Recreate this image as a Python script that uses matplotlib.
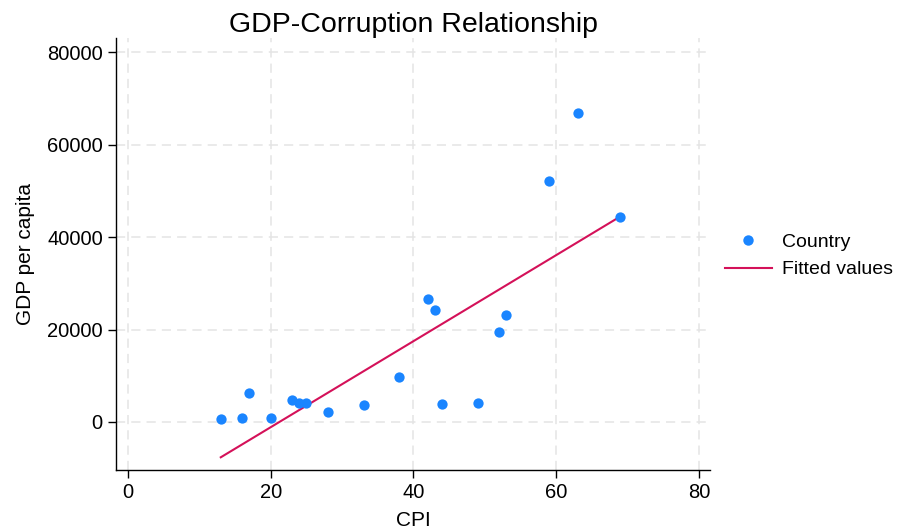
import matplotlib
matplotlib.use("Agg")
import matplotlib.pyplot as plt
from matplotlib.lines import Line2D

plt.rcParams['font.family'] = ['Liberation Sans', 'DejaVu Sans']

# Corruption Perceptions Index and GDP per capita by country
cpi = [13, 16, 17, 20, 23, 24, 25, 28, 33, 38, 42, 43, 44, 49, 52, 53, 59, 63, 69]
gdp = [580, 800, 6340, 800, 4830, 4180, 4180, 2160, 3740, 9670,
       26620, 24300, 3830, 4110, 19480, 23220, 52220, 66870, 44360]

# Linear fit endpoints
fit_x = [13, 69]
fit_y = [-7640, 44500]

xticks = [0, 20, 40, 60, 80]
yticks = [0, 20000, 40000, 60000, 80000]

blue = '#1a85ff'
red = '#d41159'

fig = plt.figure(figsize=(8.97, 5.31), dpi=100)
ax = fig.add_axes([116/897, 1 - 470/531, (710-116)/897, (470-38)/531])

ax.scatter(cpi, gdp, s=55, color=blue, zorder=3, linewidths=0)
ax.plot(fit_x, fit_y, color=red, lw=1.5, zorder=2)

ax.set_xlim(-1.68, 81.54)
ax.set_ylim(-10390, 83100)
ax.set_xticks(xticks)
ax.set_yticks(yticks)
ax.set_xticklabels([str(t) for t in xticks])
ax.set_yticklabels([str(t) for t in yticks])

ax.grid(True, color='#e4e4e4', linestyle=(0, (6, 4)), linewidth=1.1, zorder=0)
ax.set_axisbelow(True)
for s in ['top', 'right']:
    ax.spines[s].set_visible(False)
for s in ['left', 'bottom']:
    ax.spines[s].set_linewidth(1.0)
    ax.spines[s].set_color('black')
ax.tick_params(axis='both', direction='out', length=5.5, width=1.0,
               labelsize=14.5, pad=4, colors='black')

ax.set_xlabel('CPI', fontsize=15, labelpad=6)
ax.set_ylabel('GDP per capita', fontsize=15, labelpad=9)
ax.set_title('GDP-Corruption Relationship', fontsize=20.5, pad=4)

handles = [
    Line2D([], [], marker='o', linestyle='none', color=blue, markersize=7.5,
           markeredgewidth=0),
    Line2D([], [], color=red, lw=1.5),
]
fig.legend(handles, ['Country', 'Fitted values'], loc='center left',
           bbox_to_anchor=(725/897, 1 - 256/531), frameon=False, fontsize=14,
           borderaxespad=0, borderpad=0,
           handlelength=2.4, handletextpad=0.55, labelspacing=0.5)

fig.savefig('out.png', dpi=100, facecolor='white')
